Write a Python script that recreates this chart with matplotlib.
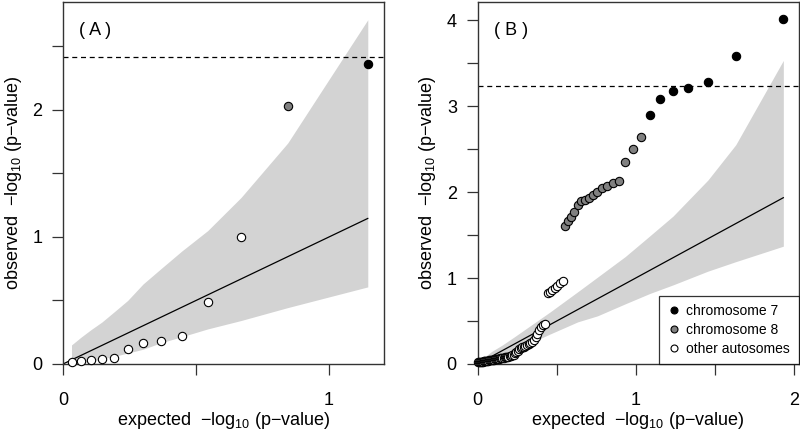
import numpy as np
import matplotlib
matplotlib.use("Agg")
import matplotlib.pyplot as plt
from matplotlib.lines import Line2D

plt.rcParams['font.family'] = ['Liberation Sans', 'DejaVu Sans']
plt.rcParams['mathtext.fontset'] = 'custom'
plt.rcParams['mathtext.rm'] = 'Liberation Sans'
plt.rcParams['mathtext.it'] = 'Liberation Sans'

# ---- Panel A data (13 tests) ----
a_expected = [0.032, 0.067, 0.105, 0.146, 0.192, 0.243, 0.301, 0.368, 0.447,
              0.544, 0.669, 0.845, 1.146]
a_observed = [0.018, 0.024, 0.029, 0.039, 0.050, 0.118, 0.168, 0.178, 0.220,
              0.488, 1.003, 2.031, 2.360]
a_group = ['o'] * 11 + ['8', '7']
a_band_upper = [0.15, 0.21, 0.27, 0.33, 0.41, 0.50, 0.63, 0.75, 0.89,
                1.05, 1.31, 1.74, 2.71]
a_band_lower = [0.001, 0.008, 0.022, 0.041, 0.060, 0.086, 0.116, 0.167, 0.215,
                0.276, 0.342, 0.444, 0.607]
a_threshold = 2.42

# ---- Panel B data (85 tests) ----
b_expected = [1.934, 1.633, 1.457, 1.332, 1.236, 1.156, 1.089, 1.031, 0.980, 0.934,
              0.893, 0.855, 0.821, 0.788, 0.758, 0.730, 0.704, 0.679, 0.656, 0.633,
              0.612, 0.592, 0.573, 0.554, 0.537, 0.520, 0.503, 0.487, 0.472, 0.457,
              0.443, 0.429, 0.416, 0.403, 0.390, 0.378, 0.366, 0.355, 0.343, 0.332,
              0.322, 0.311, 0.301, 0.291, 0.281, 0.272, 0.262, 0.253, 0.244, 0.236,
              0.227, 0.218, 0.210, 0.202, 0.194, 0.186, 0.179, 0.171, 0.164, 0.156,
              0.149, 0.142, 0.135, 0.128, 0.122, 0.115, 0.108, 0.102, 0.096, 0.089,
              0.083, 0.077, 0.071, 0.065, 0.059, 0.054, 0.048, 0.042, 0.037, 0.031,
              0.026, 0.021, 0.015, 0.010, 0.005]
b_observed = [4.01, 3.58, 3.28, 3.21, 3.17, 3.08, 2.90, 2.64, 2.50, 2.35,
              2.13, 2.10, 2.07, 2.05, 2.00, 1.97, 1.93, 1.91, 1.90, 1.85,
              1.77, 1.71, 1.66, 1.61, 0.96, 0.94, 0.91, 0.88, 0.86, 0.84,
              0.82, 0.47, 0.45, 0.43, 0.39, 0.35, 0.31, 0.28, 0.255, 0.24,
              0.23, 0.22, 0.21, 0.20, 0.195, 0.185, 0.17, 0.155, 0.14, 0.125,
              0.11, 0.10, 0.092, 0.088, 0.085, 0.082, 0.079, 0.077, 0.074, 0.071,
              0.068, 0.066, 0.063, 0.061, 0.058, 0.056, 0.054, 0.052, 0.050, 0.048,
              0.046, 0.044, 0.042, 0.040, 0.038, 0.036, 0.034, 0.032, 0.030, 0.028,
              0.026, 0.024, 0.022, 0.020, 0.018]
b_group = ['7'] * 7 + ['8'] * 17 + ['o'] * 61
b_band_x = [0.005, 0.031, 0.089, 0.156, 0.236, 0.332, 0.457, 0.633, 0.758,
            0.934, 1.089, 1.236, 1.457, 1.633, 1.934]
b_band_upper = [0.019, 0.064, 0.147, 0.221, 0.321, 0.444, 0.604, 0.84, 1.01,
                1.25, 1.49, 1.72, 2.14, 2.55, 3.53]
b_band_lower = [0.000, 0.011, 0.049, 0.100, 0.164, 0.244, 0.348, 0.49, 0.56,
                0.70, 0.82, 0.92, 1.08, 1.19, 1.37]
b_threshold = 3.23

group_colors = {'7': 'black', '8': '#808080', 'o': 'white'}
legend_labels = ['chromosome 7', 'chromosome 8', 'other autosomes']

band_color = '#d3d3d3'
xlabel = 'expected  \u2212log$_{10}$ (p\u2212value)'
ylabel = 'observed  \u2212log$_{10}$ (p\u2212value)'


def style_axes(ax, xmax, ymax, xticks, yticks):
    ax.set_xlim(0, xmax)
    ax.set_ylim(0, ymax)
    ax.set_xticks(xticks)
    ax.set_xticklabels([f'{t:g}' if float(t).is_integer() else '' for t in xticks])
    ax.set_yticks(yticks)
    ax.set_yticklabels([f'{t:g}' if float(t).is_integer() else '' for t in yticks])
    ax.tick_params(axis='x', direction='out', length=8, width=0.9, pad=12,
                   labelsize=13, color='#333333')
    ax.tick_params(axis='y', direction='out', length=8, width=0.9, pad=7,
                   labelsize=13, color='#333333')
    for s in ax.spines.values():
        s.set_linewidth(1.0)
        s.set_color('#333333')
    ax.set_xlabel(xlabel, fontsize=13, labelpad=1)
    ax.set_ylabel(ylabel, fontsize=13, labelpad=6)


def draw_points(ax, xs, ys, groups):
    xs = np.array(xs)
    ys = np.array(ys)
    groups = np.array(groups)
    # draw lowest first so the strongest signals sit on top
    for g in ['o', '8', '7']:
        m = groups == g
        ax.scatter(xs[m][::-1], ys[m][::-1], s=36, facecolor=group_colors[g],
                   edgecolor='black', linewidth=0.8, zorder=4, clip_on=False)


fig = plt.figure(figsize=(8, 4.34), dpi=100)

# Panel A
axA = fig.add_axes([63 / 800, 70 / 434, 321 / 800, 362 / 434])
axA.fill_between(a_expected, a_band_lower, a_band_upper, color=band_color,
                 linewidth=0, zorder=1)
axA.plot([0, a_expected[-1]], [0, a_expected[-1]], color='black', lw=0.9, zorder=2)
axA.axhline(a_threshold, color='black', lw=0.9, ls=(0, (4, 3)), zorder=2)
draw_points(axA, a_expected, a_observed, a_group)
style_axes(axA, 1.207, 2.85, [0, 0.5, 1], [0, 0.5, 1, 1.5, 2, 2.5])
axA.text(0.05, 0.922, '( A )', transform=axA.transAxes, fontsize=13,
         ha='left', va='center')

# Panel B
axB = fig.add_axes([477.7 / 800, 70 / 434, 320.8 / 800, 362 / 434])
axB.fill_between(b_band_x, b_band_lower, b_band_upper, color=band_color,
                 linewidth=0, zorder=1)
axB.plot([0, b_expected[0]], [0, b_expected[0]], color='black', lw=0.9, zorder=2)
axB.axhline(b_threshold, color='black', lw=0.9, ls=(0, (4, 3)), zorder=2)
draw_points(axB, b_expected, b_observed, b_group)
style_axes(axB, 2.03, 4.21, [0, 0.5, 1, 1.5, 2], [0, 0.5, 1, 1.5, 2, 2.5, 3, 3.5, 4])
axB.text(0.05, 0.922, '( B )', transform=axB.transAxes, fontsize=13,
         ha='left', va='center')

handles = [Line2D([], [], ls='none', marker='o', markersize=5,
                  markerfacecolor=group_colors[g], markeredgecolor='black',
                  markeredgewidth=0.8) for g in ['7', '8', 'o']]
leg = axB.legend(handles, legend_labels, loc='lower right', fontsize=10,
                 frameon=True, fancybox=False, borderaxespad=0,
                 handletextpad=0.4, handlelength=1.0, labelspacing=0.35,
                 borderpad=0.6)
leg.get_frame().set_edgecolor('black')
leg.get_frame().set_linewidth(0.9)
leg.set_zorder(5)

fig.savefig('out.png', dpi=100)
